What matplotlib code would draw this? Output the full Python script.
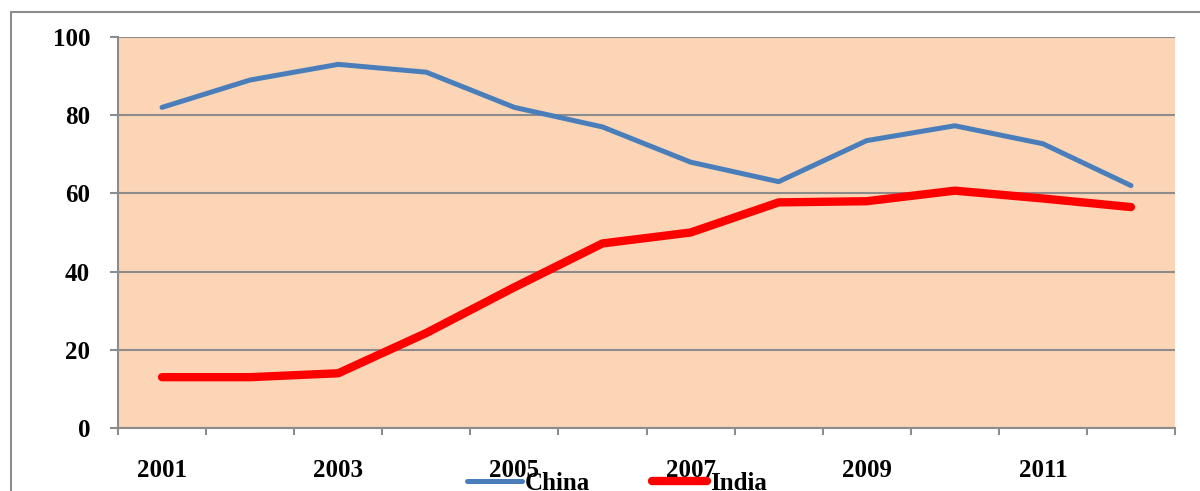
import matplotlib.pyplot as plt
from matplotlib.patches import Rectangle

# data
years = ['2001', '2002', '2003', '2004', '2005', '2006', '2007', '2008', '2009', '2010', '2011', '2012']
china = [82, 89, 93, 91, 82, 77, 68, 63, 73.5, 77.3, 72.7, 62]
india = [13, 13, 14, 24.3, 36, 47.2, 50, 57.7, 58, 60.7, 58.7, 56.5]
yticks = [0, 20, 40, 60, 80, 100]

plt.rcParams['font.family'] = ['Liberation Serif', 'DejaVu Serif']
plt.rcParams['font.weight'] = 'bold'

fig = plt.figure(figsize=(12, 4.91), dpi=100)

# outer chart border
fig.patches.append(Rectangle((11 / 1200, -0.1), 1.2, (491 - 12) / 491 + 0.1,
                             transform=fig.transFigure, fill=False,
                             edgecolor='#8c8c8c', linewidth=1.5))

ax = fig.add_axes([118 / 1200, 63 / 491, 1057 / 1200, 391 / 491])
ax.set_facecolor('#fbd5b5')

x = range(len(years))
ax.plot(x, china, color='#4a7ebb', linewidth=3.6, label='China', solid_capstyle='round')
ax.plot(x, india, color='#ff0000', linewidth=6, label='India', solid_capstyle='round')

ax.set_xlim(-0.5, len(years) - 0.5)
ax.set_ylim(0, 100)
ax.set_yticks(yticks)
ax.yaxis.grid(True, color='#8c8c8c', linewidth=1.5)
ax.set_axisbelow(True)

# ticks at category boundaries, labels under odd years
ax.set_xticks([i - 0.5 for i in range(len(years) + 1)])
ax.set_xticklabels([])
ax.set_xticks(list(x), minor=True)
ax.set_xticklabels([y if i % 2 == 0 else '' for i, y in enumerate(years)], minor=True)
ax.tick_params(axis='x', which='major', length=5, width=1.5, color='#8c8c8c')
ax.tick_params(axis='x', which='minor', length=0, pad=22, labelsize=18)
ax.tick_params(axis='y', length=6, width=1.5, color='#8c8c8c', pad=14, labelsize=18)

for s in ['top', 'right']:
    ax.spines[s].set_visible(False)
for s in ['left', 'bottom']:
    ax.spines[s].set_color('#8c8c8c')
    ax.spines[s].set_linewidth(1.5)

fig.legend(loc='center', bbox_to_anchor=(617 / 1200, 1 - 483 / 491), ncol=2,
           frameon=False, fontsize=18, handlelength=2.2, handletextpad=0.1,
           columnspacing=2.5, borderpad=0)

fig.savefig('out.png', dpi=100)
